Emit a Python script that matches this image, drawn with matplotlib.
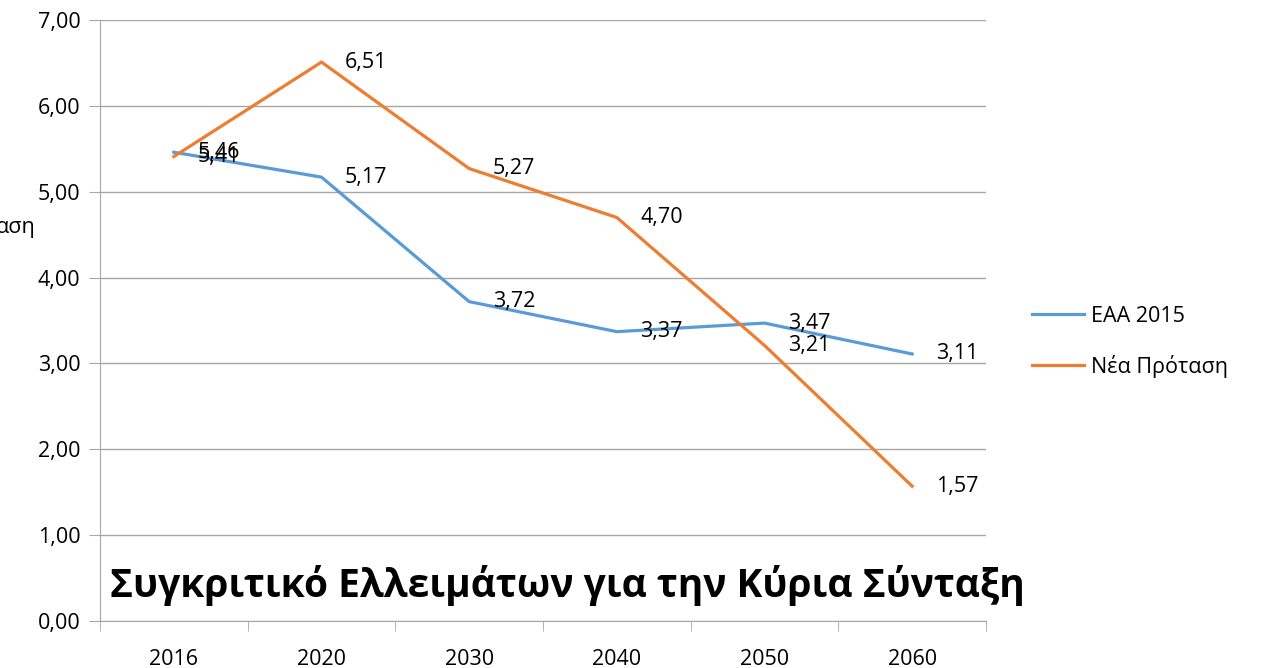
import matplotlib.pyplot as plt
import numpy as np

years = ['2016', '2020', '2030', '2040', '2050', '2060']
eaa_2015 = [5.46, 5.17, 3.72, 3.37, 3.47, 3.11]
nea_protasi = [5.41, 6.51, 5.27, 4.70, 3.21, 1.57]
series_names = ['ΕΑΑ 2015', 'Νέα Πρόταση']
y_ticks = [0, 1, 2, 3, 4, 5, 6, 7]
title = 'Συγκριτικό Ελλειμάτων για την Κύρια Σύνταξη'

plt.rcParams['font.family'] = ['Open Sans', 'DejaVu Sans']

fig = plt.figure(figsize=(12.61, 6.68), dpi=100)
ax = fig.add_axes([0.0793, 0.0704, 0.7026, 0.8996])

x = np.arange(len(years))
colors = ['#5B9BD5', '#ED7D31']

for vals, name, c in zip([eaa_2015, nea_protasi], series_names, colors):
    ax.plot(x, vals, color=c, lw=2.3, label=name, solid_joinstyle='miter')
    for xi, v in zip(x, vals):
        ax.annotate(f'{v:.2f}'.replace('.', ','), (xi, v), xytext=(17, 0),
                    textcoords='offset points', ha='left', va='center',
                    fontsize=15.5, color='#000000')

ax.set_xlim(-0.5, len(years) - 0.5)
ax.set_ylim(0, 7)
ax.set_yticks(y_ticks)
ax.set_yticklabels([f'{t:.2f}'.replace('.', ',') for t in y_ticks])
ax.set_xticks(x)
ax.set_xticklabels(years)
ax.set_xticks(np.arange(-0.5, len(years)), minor=True)
ax.tick_params(axis='x', which='major', length=0, pad=20, labelsize=15.5)
ax.tick_params(axis='x', which='minor', length=7, color='#A6A6A6', direction='out')
ax.tick_params(axis='y', length=8, color='#A6A6A6', pad=6, labelsize=15.5)

ax.grid(axis='y', color='#A6A6A6', lw=1)
ax.set_axisbelow(True)
for s in ['top', 'right']:
    ax.spines[s].set_visible(False)
for s in ['left', 'bottom']:
    ax.spines[s].set_color('#A6A6A6')

fig.text(0.087, 0.124, title, fontsize=28, fontweight='bold', va='center', ha='left')
fig.text(0.028, 0.660, 'αση', fontsize=15.5, ha='right', va='center')

ax.legend(loc='center left', bbox_to_anchor=(1.03, 0.465), frameon=False,
          fontsize=15.5, handlelength=2.4, labelspacing=1.3, handletextpad=0.35)

fig.savefig('out.png', dpi=100)
